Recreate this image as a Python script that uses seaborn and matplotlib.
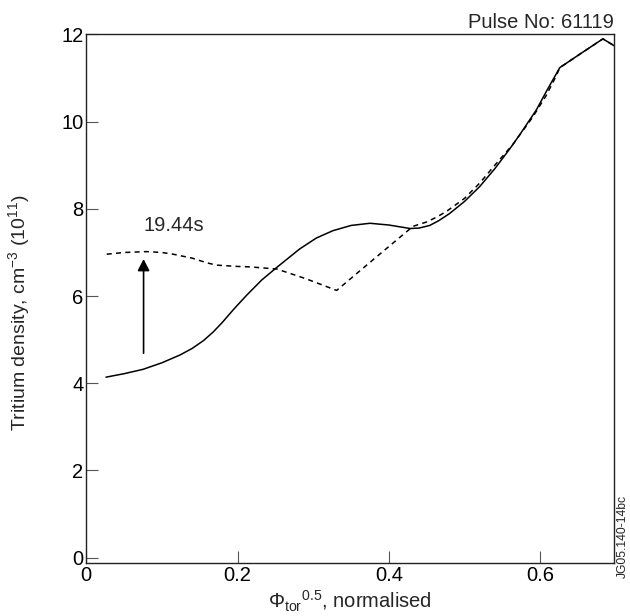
import matplotlib
matplotlib.use("Agg")
import matplotlib.pyplot as plt
import seaborn as sns
import pandas as pd

# ---- data ----
solid_x = [0.026, 0.05, 0.075, 0.10, 0.124, 0.14, 0.155, 0.168, 0.18, 0.195, 0.212,
           0.232, 0.252, 0.282, 0.304, 0.326, 0.35, 0.375, 0.40, 0.414, 0.428,
           0.44, 0.454, 0.466, 0.48, 0.50, 0.52, 0.54, 0.56, 0.573, 0.595, 0.61,
           0.626, 0.65, 0.676, 0.683, 0.70]
solid_y = [4.14, 4.22, 4.32, 4.47, 4.65, 4.80, 4.98, 5.18, 5.40, 5.70, 6.02,
           6.37, 6.66, 7.08, 7.33, 7.50, 7.62, 7.67, 7.63, 7.59, 7.55,
           7.56, 7.62, 7.73, 7.89, 8.17, 8.51, 8.92, 9.38, 9.70, 10.27, 10.75,
           11.24, 11.52, 11.82, 11.90, 11.72]

dashed_x = [0.027, 0.05, 0.08, 0.10, 0.115, 0.14, 0.16, 0.172, 0.20, 0.216, 0.252,
            0.29, 0.331, 0.37, 0.414, 0.432, 0.45, 0.463, 0.476, 0.50, 0.52, 0.54,
            0.564, 0.59, 0.608, 0.621, 0.626, 0.65, 0.683, 0.70]
dashed_y = [6.96, 7.00, 7.02, 7.00, 6.96, 6.87, 6.76, 6.71, 6.68, 6.67, 6.62,
            6.40, 6.13, 6.70, 7.34, 7.60, 7.70, 7.81, 7.94, 8.24, 8.59, 9.00,
            9.48, 10.10, 10.60, 11.04, 11.24, 11.52, 11.90, 11.72]

x_ticks = [0, 0.2, 0.4, 0.6]
x_tick_labels = ["0", "0.2", "0.4", "0.6"]
y_ticks = [0, 2, 4, 6, 8, 10, 12]
y_tick_labels = ["0", "2", "4", "6", "8", "10", "12"]

arrow_x = 0.0757
arrow_y_from = 4.69
arrow_y_to = 6.85
time_label = "19.44s"
pulse_label = "Pulse No: 61119"
code_label = "JG05.140-14bc"

# ---- style ----
sns.set_style("ticks")
plt.rcParams["font.family"] = ["Liberation Sans", "DejaVu Sans"]
plt.rcParams["mathtext.fontset"] = "custom"
plt.rcParams["mathtext.rm"] = "Liberation Sans"
plt.rcParams["mathtext.it"] = "Liberation Sans:italic"
plt.rcParams["mathtext.bf"] = "Liberation Sans:bold"

FS = 14.5

fig = plt.figure(figsize=(6.30, 6.16), dpi=100)
ax = fig.add_axes([0.137, 0.0855, 0.838, 0.8585])

df_solid = pd.DataFrame({"x": solid_x, "y": solid_y})
df_dashed = pd.DataFrame({"x": dashed_x, "y": dashed_y})

sns.lineplot(data=df_solid, x="x", y="y", ax=ax, color="black", lw=1.1,
             estimator=None, sort=False)
sns.lineplot(data=df_dashed, x="x", y="y", ax=ax, color="black", lw=1.1,
             estimator=None, sort=False)
ax.lines[-1].set_dashes([3.3, 2.8])

ax.set_xlim(0, 0.698)
ax.set_ylim(-0.13, 12)
ax.set_xticks(x_ticks)
ax.set_xticklabels(x_tick_labels)
ax.set_yticks(y_ticks)
ax.set_yticklabels(y_tick_labels)
ax.tick_params(direction="in", length=8.5, width=0.8, color="#555555",
               labelsize=FS, pad=2, labelcolor="black")

for s in ax.spines.values():
    s.set_visible(True)
    s.set_color("#222222")
    s.set_linewidth(1.0)

ax.set_xlabel(r"$\Phi_{\mathrm{tor}}{}^{0.5}$, normalised", fontsize=FS, labelpad=3)
ax.set_ylabel(r"Tritium density, cm$^{\mathrm{-3}}$ (10$^{11}$)", fontsize=14)
ax.yaxis.set_label_coords(-0.102, 0.474)

ax.annotate("", xy=(arrow_x, arrow_y_to), xytext=(arrow_x, arrow_y_from),
            arrowprops=dict(arrowstyle="-|>,head_length=0.35,head_width=0.18",
                            color="black", lw=1.2, mutation_scale=20,
                            shrinkA=0, shrinkB=0))
ax.text(arrow_x, 7.63, time_label, ha="left", va="center", fontsize=FS)

ax.text(1.0, 1.013, pulse_label, transform=ax.transAxes, ha="right",
        va="baseline", fontsize=FS)
ax.text(1.004, -0.028, code_label, transform=ax.transAxes, ha="left",
        va="bottom", rotation=90, fontsize=8.7)

fig.savefig("out.png", dpi=100)
